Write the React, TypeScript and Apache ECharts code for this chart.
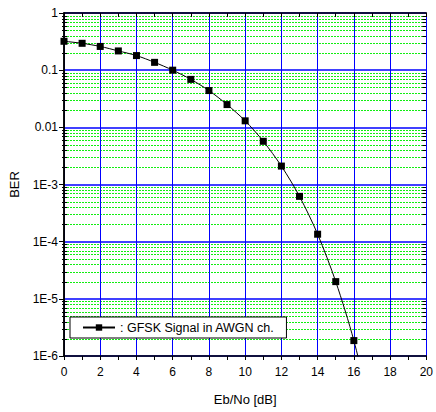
import React, { useEffect, useRef } from "react";
import * as echarts from "echarts";

const ebNo = [0, 1, 2, 3, 4, 5, 6, 7, 8, 9, 10, 11, 12, 13, 14, 15, 16, 17];
const ber = [
  0.32, 0.295, 0.26, 0.217, 0.18, 0.137, 0.1, 0.069, 0.044, 0.025, 0.013,
  0.0057, 0.0021, 0.00062, 0.000135, 0.00002, 0.00000186, 0.00000009,
];
const yTickLabels = ["1E-6", "1E-5", "1E-4", "1E-3", "0.01", "0.1", "1"];
const decades = [1e-6, 1e-5, 1e-4, 1e-3, 1e-2, 1e-1];
const minorMultipliers = [2, 3, 4, 5, 6, 7, 8, 9];
const seriesName = "GFSK Signal in AWGN ch.";

const FONT = "Liberation Sans";

export default function App() {
  const ref = useRef<HTMLDivElement>(null);
  useEffect(() => {
    if (!ref.current) return;
    const chart = echarts.init(ref.current, null, { renderer: "svg" });
    const minorVals: number[] = [];
    decades.forEach((d) => minorMultipliers.forEach((m) => minorVals.push(m * d)));

    const renderMinor = (params: any, api: any) => {
      const cs = params.coordSys;
      const y = Math.round(api.coord([0, api.value(1)])[1]) + 0.5;
      const left = cs.x;
      const right = cs.x + cs.width;
      return {
        type: "group",
        children: [
          {
            type: "line",
            shape: { x1: left, y1: y, x2: right, y2: y },
            style: { stroke: "#11ee11", lineWidth: 1, lineDash: [2, 1] },
            z2: 0,
          },
          {
            type: "line",
            shape: { x1: left - 2, y1: y, x2: left + 3, y2: y },
            style: { stroke: "#000", lineWidth: 1 },
            z2: 1,
          },
          {
            type: "line",
            shape: { x1: right - 4, y1: y, x2: right, y2: y },
            style: { stroke: "#000", lineWidth: 1 },
            z2: 1,
          },
        ],
      };
    };

    chart.setOption({
      animation: false,
      backgroundColor: "#ffffff",
      textStyle: { fontFamily: FONT },
      grid: { left: 62, right: 7, top: 13, bottom: 56, containLabel: false },
      legend: {
        left: 70,
        top: 317,
        orient: "horizontal",
        backgroundColor: "#ffffff",
        borderColor: "#000000",
        borderWidth: 1,
        borderRadius: 0,
        padding: [4, 12, 4, 12],
        itemWidth: 32,
        itemHeight: 8,
        data: [seriesName],
        formatter: ": {name}",
        textStyle: { fontFamily: FONT, fontSize: 12.5, color: "#000" },
      },
      xAxis: [
        {
          type: "value",
          min: 0,
          max: 20,
          interval: 2,
          position: "bottom",
          name: "Eb/No [dB]",
          nameLocation: "middle",
          nameGap: 37,
          nameTextStyle: { fontFamily: FONT, fontSize: 13, color: "#000" },
          axisLine: { show: true, lineStyle: { color: "#000", width: 1.5 } },
          axisTick: { show: true, length: 4, lineStyle: { color: "#000" } },
          minorTick: { show: true, splitNumber: 2, length: 4, lineStyle: { color: "#000" } },
          axisLabel: { fontFamily: FONT, fontSize: 12, color: "#000", margin: 10 },
          splitLine: { show: true, lineStyle: { color: "#0000ff", width: 1 } },
          z: 3,
        },
        {
          type: "value",
          min: 0,
          max: 20,
          interval: 2,
          position: "top",
          axisLine: { show: true, lineStyle: { color: "#000", width: 1.5 } },
          axisTick: { show: true, inside: true, length: 4, lineStyle: { color: "#000" } },
          minorTick: { show: true, splitNumber: 2, length: 4, lineStyle: { color: "#000" } },
          axisLabel: { show: false },
          splitLine: { show: false },
          z: 3,
        },
      ],
      yAxis: [
        {
          type: "log",
          logBase: 10,
          min: 1e-6,
          max: 1,
          splitNumber: 6,
          position: "left",
          name: "BER",
          nameLocation: "middle",
          nameGap: 43,
          nameRotate: 90,
          nameTextStyle: { fontFamily: FONT, fontSize: 13, color: "#000" },
          axisLine: { show: true, lineStyle: { color: "#000", width: 1.5 } },
          axisTick: { show: true, length: 5, lineStyle: { color: "#000" } },
          axisLabel: {
            fontFamily: FONT,
            fontSize: 12,
            color: "#000",
            margin: 6,
            formatter: (v: number) => yTickLabels[Math.round(Math.log10(v)) + 6],
          },
          splitLine: { show: true, lineStyle: { color: "#0000ff", width: 1.5 } },
          z: 3,
        },
        {
          type: "log",
          logBase: 10,
          min: 1e-6,
          max: 1,
          splitNumber: 6,
          position: "right",
          axisLine: { show: true, lineStyle: { color: "#000", width: 1.5 } },
          axisTick: { show: true, inside: true, length: 5, lineStyle: { color: "#000" } },
          axisLabel: { show: false },
          splitLine: { show: false },
          z: 3,
        },
      ],
      series: [
        {
          type: "custom",
          name: "minorGrid",
          xAxisIndex: 0,
          yAxisIndex: 0,
          z: 1,
          silent: true,
          clip: false,
          renderItem: renderMinor,
          data: minorVals.map((v) => [0, v]),
          encode: { x: 0, y: 1 },
        },
        {
          type: "line",
          name: seriesName,
          xAxisIndex: 0,
          yAxisIndex: 0,
          data: ebNo.map((x, i) => [x, ber[i]]),
          smooth: 0.3,
          symbol: "rect",
          symbolSize: 7,
          clip: true,
          z: 5,
          lineStyle: { color: "#000", width: 1 },
          itemStyle: { color: "#000" },
        },
      ],
    });
    return () => chart.dispose();
  }, []);
  return (
    <div
      ref={ref}
      style={{ position: "fixed", left: 0, top: 0, width: 436, height: 412 }}
    />
  );
}
